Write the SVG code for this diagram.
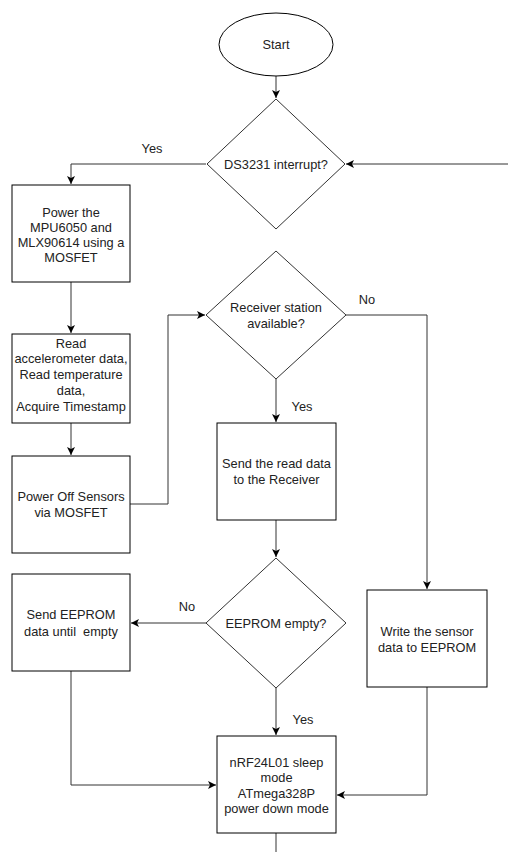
<svg xmlns="http://www.w3.org/2000/svg" width="508" height="852" viewBox="0 0 508 852">
<style>
.n{fill:#fff;stroke:#000;stroke-width:1}
.d{fill:#fff;stroke:#333;stroke-width:1}
.c{fill:none;stroke:#333;stroke-width:1}
text{font-family:"Liberation Sans",Arial,sans-serif;font-size:12.8px;fill:#222;text-anchor:middle;dominant-baseline:central;white-space:pre}
</style>
<defs>
<marker id="a" markerUnits="userSpaceOnUse" markerWidth="10" markerHeight="10" refX="8" refY="4" orient="auto">
<path d="M0,0 L8,4 L0,8 L2,4 z" fill="#000"/>
</marker>
</defs>
<g id="connectors">
<path class="c" d="M276,76 V98" marker-end="url(#a)"/>
<path class="c" d="M206,164 H71 V184" marker-end="url(#a)"/>
<path class="c" d="M508,164 H346" marker-end="url(#a)"/>
<path class="c" d="M71,282 V333" marker-end="url(#a)"/>
<path class="c" d="M71,423 V455" marker-end="url(#a)"/>
<path class="c" d="M130,504 H168 V315 H205" marker-end="url(#a)"/>
<path class="c" d="M346,315 H427 V589" marker-end="url(#a)"/>
<path class="c" d="M276,379 V422" marker-end="url(#a)"/>
<path class="c" d="M276,520 V557" marker-end="url(#a)"/>
<path class="c" d="M206,623 H131" marker-end="url(#a)"/>
<path class="c" d="M276,688 V735" marker-end="url(#a)"/>
<path class="c" d="M71,671 V785 H216" marker-end="url(#a)"/>
<path class="c" d="M427,687 V795 H337" marker-end="url(#a)"/>
<path class="c" d="M276,833 V852"/>
<text x="152" y="148">Yes</text>
<text x="367" y="299">No</text>
<text x="302" y="406">Yes</text>
<text x="187" y="606">No</text>
<text x="303" y="719">Yes</text>
</g>
<g id="start">
<ellipse class="n" cx="276" cy="44.5" rx="57" ry="31.5"/>
<text x="276" y="44.5">Start</text>
</g>
<g id="ds3231">
<path class="d" d="M276,99 L345,164 L276,229 L207,164 z"/>
<text x="276" y="164">DS3231 interrupt?</text>
</g>
<g id="power-on">
<rect class="n" x="12" y="185" width="118" height="97"/>
<text x="71" y="212">Power the</text>
<text x="71" y="227">MPU6050 and</text>
<text x="71" y="242">MLX90614 using a</text>
<text x="71" y="257">MOSFET</text>
</g>
<g id="read-data">
<rect class="n" x="12" y="334" width="118" height="89"/>
<text x="71" y="343">Read</text>
<text x="71" y="358.5">accelerometer data,</text>
<text x="71" y="374.5">Read temperature</text>
<text x="71" y="390">data,</text>
<text x="71" y="406">Acquire Timestamp</text>
</g>
<g id="power-off">
<rect class="n" x="12" y="456" width="118" height="97"/>
<text x="71" y="496">Power Off Sensors</text>
<text x="71" y="512">via MOSFET</text>
</g>
<g id="receiver">
<path class="d" d="M276,251 L346,315 L276,379 L206,315 z"/>
<text x="276" y="307">Receiver station</text>
<text x="276" y="323">available?</text>
</g>
<g id="send-read">
<rect class="n" x="217" y="423" width="119" height="97"/>
<text x="276.5" y="463">Send the read data</text>
<text x="276.5" y="479">to the Receiver</text>
</g>
<g id="eeprom-empty">
<path class="d" d="M276,558 L346,623 L276,688 L206,623 z"/>
<text x="276" y="623">EEPROM empty?</text>
</g>
<g id="send-eeprom">
<rect class="n" x="12" y="574" width="118" height="97"/>
<text x="71" y="614">Send EEPROM</text>
<text x="71" y="631">data until  empty</text>
</g>
<g id="write-eeprom">
<rect class="n" x="367" y="590" width="120" height="97"/>
<text x="427" y="631">Write the sensor</text>
<text x="427" y="647">data to EEPROM</text>
</g>
<g id="sleep">
<rect class="n" x="217" y="736" width="119" height="97"/>
<text x="276.5" y="762">nRF24L01 sleep</text>
<text x="276.5" y="777">mode</text>
<text x="276.5" y="793">ATmega328P</text>
<text x="276.5" y="808">power down mode</text>
</g>
</svg>
